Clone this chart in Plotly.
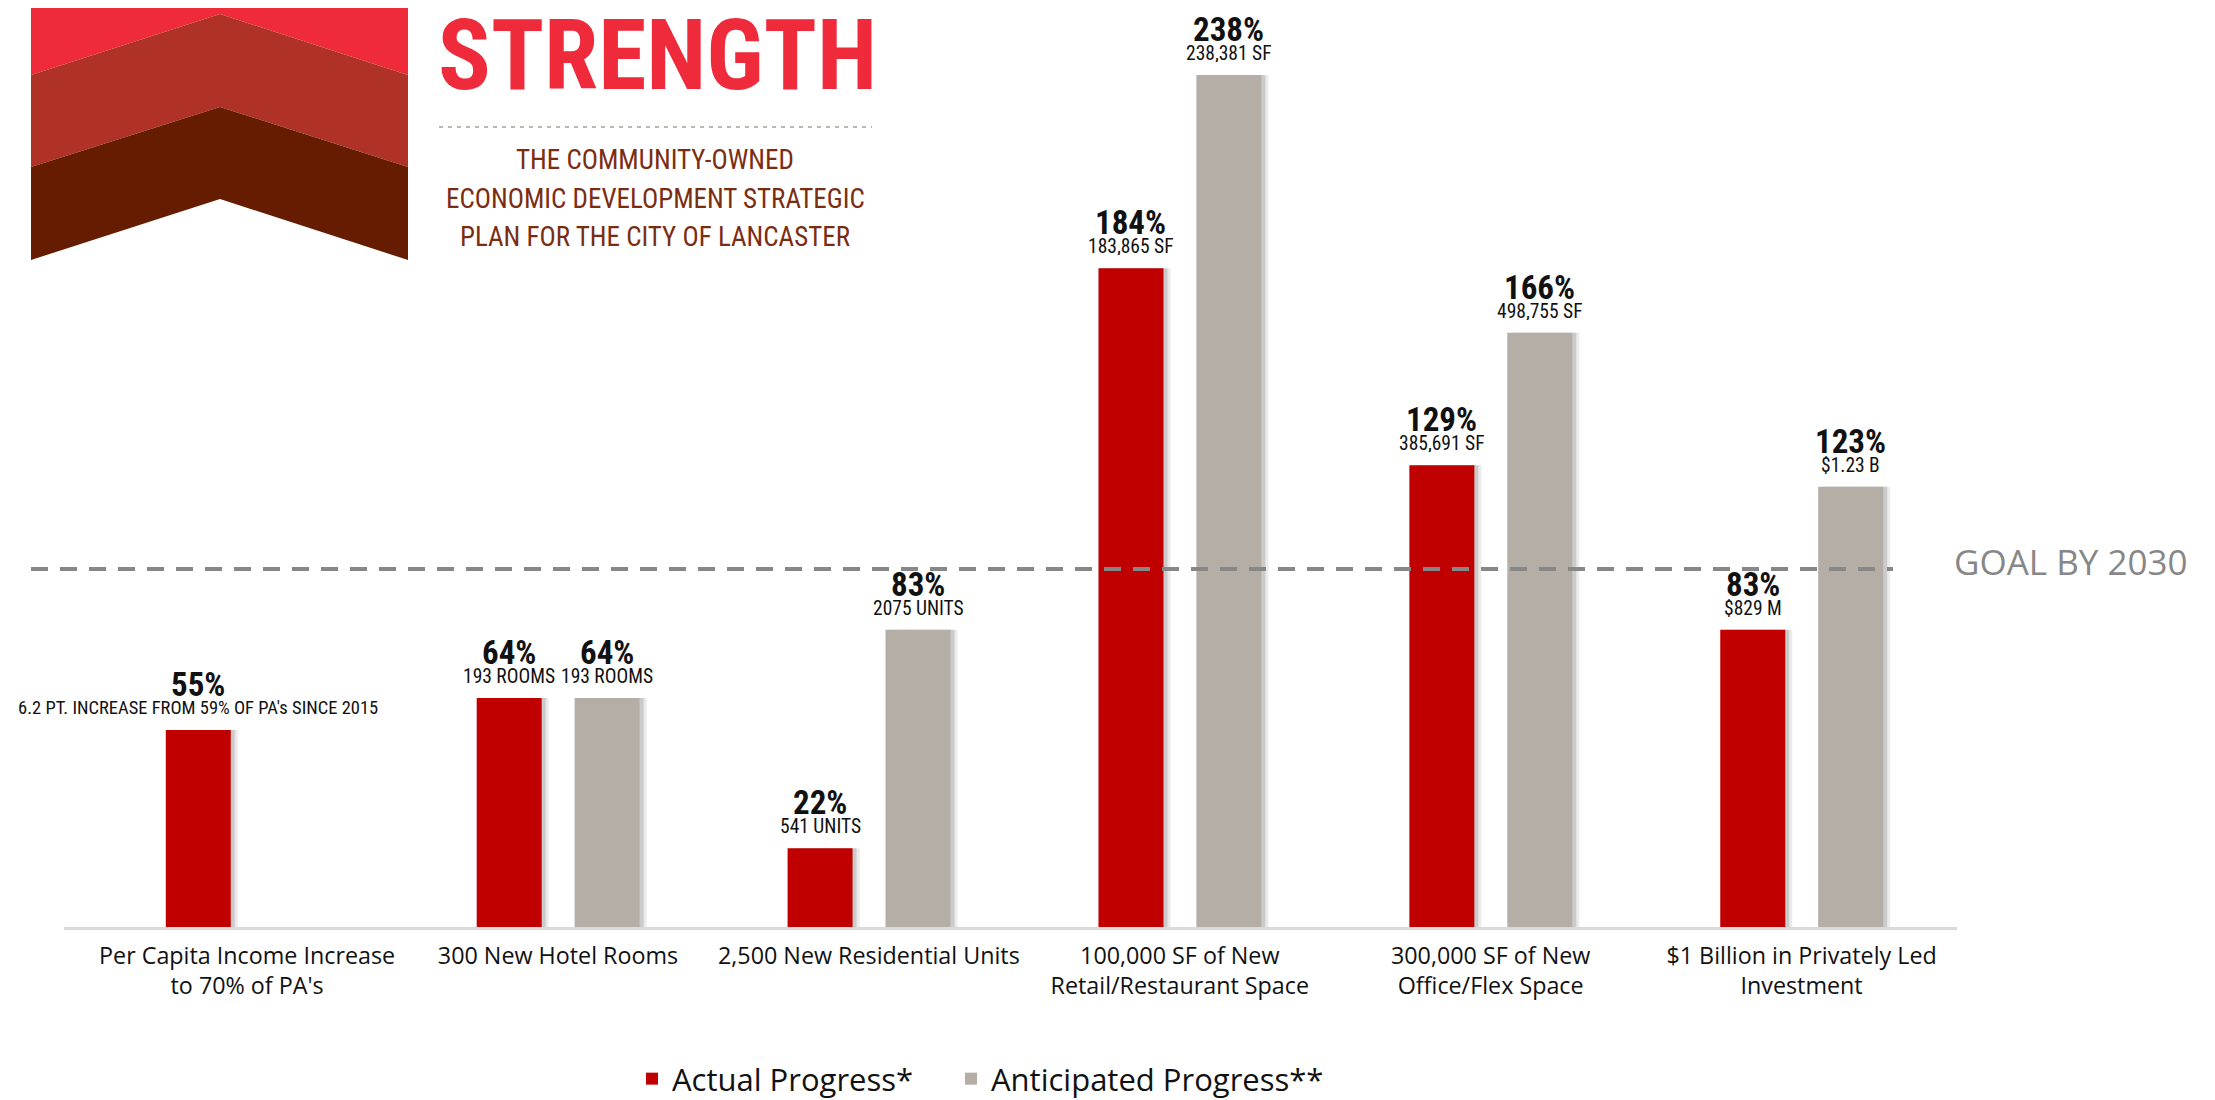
import plotly.graph_objects as go

# ---------------- data ----------------
categories = [
    "Per Capita Income Increase<br>to 70% of PA's",
    "300 New Hotel Rooms",
    "2,500 New Residential Units",
    "100,000 SF of New<br>Retail/Restaurant Space",
    "300,000 SF of New<br>Office/Flex Space",
    "$1 Billion in Privately Led<br>Investment",
]
actual_pct = [55, 64, 22, 184, 129, 83]
anticipated_pct = [None, 64, 83, 238, 166, 123]
actual_detail = ["6.2 PT. INCREASE FROM 59% OF PA's SINCE 2015", "193 ROOMS", "541 UNITS",
                 "183,865 SF", "385,691 SF", "$829 M"]
anticipated_detail = [None, "193 ROOMS", "2075 UNITS", "238,381 SF", "498,755 SF", "$1.23 B"]
goal_value = 100
series_names = ["Actual Progress*", "Anticipated Progress**"]
subtitle_lines = ["THE COMMUNITY-OWNED", "ECONOMIC DEVELOPMENT STRATEGIC", "PLAN FOR THE CITY OF LANCASTER"]

# ---------------- layout constants (page pixels) ----------------
O = 8                      # default body margin of the html page
W, H = 2215 - O, 1100 - O
PL, PR, PT, PB = 64, 1957, 32, 927   # plot area on the page
X_RANGE = [-0.589, 5.5]
PX = (X_RANGE[1] - X_RANGE[0]) / (PR - PL)  # category units per pixel

RED = "#C00000"
GREY = "#B5AEA6"
BAR_W = 65 * PX
OFF_A = -0.157
OFF_B = 0.158

COND = "Liberation Sans Narrow, Arial Narrow, Roboto Condensed, sans-serif"
SANS = "Open Sans, Lato, sans-serif"


def px_x(p):
    return (p - PL) / (PR - PL)


def px_y(p):
    return (PB - p) / (PB - PT)


def path(points):
    return "M " + " L ".join(f"{px_x(x):.5f},{px_y(y):.5f}" for x, y in points) + " Z"


fig = go.Figure()

# soft drop shadows
for vals, off in [(actual_pct, OFF_A), (anticipated_pct, OFF_B)]:
    for shift, alpha in [(7, 0.10), (4, 0.18)]:
        fig.add_trace(go.Bar(
            x=categories, y=vals, offset=off - BAR_W / 2 + shift * PX, width=BAR_W,
            marker=dict(color=f"rgba(60,60,60,{alpha})", line=dict(width=0)),
            showlegend=False, hoverinfo="skip"))

fig.add_trace(go.Bar(x=categories, y=actual_pct, name=series_names[0],
                     offset=OFF_A - BAR_W / 2, width=BAR_W, legend="legend",
                     marker=dict(color=RED, line=dict(width=0))))
fig.add_trace(go.Bar(x=categories, y=anticipated_pct, name=series_names[1],
                     offset=OFF_B - BAR_W / 2, width=BAR_W, legend="legend2",
                     marker=dict(color=GREY, line=dict(width=0))))

annotations = []
for i in range(len(categories)):
    for vals, det, off in [(actual_pct, actual_detail, OFF_A), (anticipated_pct, anticipated_detail, OFF_B)]:
        v = vals[i]
        if v is None:
            continue
        annotations.append(dict(x=i + off, y=v, xref="x", yref="y", text=f"<b>{v}%</b>",
                                showarrow=False, yanchor="middle", yshift=46, height=26,
                                font=dict(family=COND, size=33, color="#111111")))
        annotations.append(dict(x=i + off, y=v, xref="x", yref="y", text=det[i],
                                showarrow=False, yanchor="middle", yshift=22, height=18,
                                font=dict(family=COND, size=18.5 if len(det[i]) > 20 else 19.5,
                                          color="#111111")))

# goal label
annotations.append(dict(x=px_x(1952), y=goal_value, xref="paper", yref="y", text="GOAL BY 2030",
                        showarrow=False, xanchor="left", yanchor="middle", yshift=8,
                        font=dict(family=SANS, size=35, color="#878787")))

# header
annotations.append(dict(x=px_x(436), y=px_y(8), xref="paper", yref="paper", text="<b>STRENGTH</b>",
                        showarrow=False, xanchor="left", yanchor="top", height=90,
                        font=dict(family=COND, size=98, color="#EE2A3B")))
for line, yc in zip(subtitle_lines, [160, 199, 237]):
    annotations.append(dict(x=px_x(655), y=px_y(yc), xref="paper", yref="paper", text=line,
                            showarrow=False, xanchor="center", yanchor="middle",
                            font=dict(family=COND, size=27, color="#7B2D12")))

shapes = [
    dict(type="line", xref="paper", yref="y", x0=px_x(31), x1=px_x(1893), y0=goal_value, y1=goal_value,
         line=dict(color="#878787", width=4, dash="17px,12px"), layer="above"),
    # logo chevrons
    dict(type="path", xref="paper", yref="paper",
         path=path([(31, 0), (408, 0), (408, 75), (220, 14), (31, 75)]),
         fillcolor="#EE2A3B", line=dict(width=0)),
    dict(type="path", xref="paper", yref="paper",
         path=path([(31, 75), (220, 14), (408, 75), (408, 167), (220, 107), (31, 167)]),
         fillcolor="#B03226", line=dict(width=0)),
    dict(type="path", xref="paper", yref="paper",
         path=path([(31, 167), (220, 107), (408, 167), (408, 260), (220, 199), (31, 260)]),
         fillcolor="#651C00", line=dict(width=0)),
    dict(type="line", xref="paper", yref="paper", x0=px_x(439), x1=px_x(872), y0=px_y(127), y1=px_y(127),
         line=dict(color="#BDB7B0", width=2, dash="4px,5px")),
]

legend_style = dict(orientation="h", xanchor="left", y=px_y(1079), yanchor="middle",
                    font=dict(family=SANS, size=31, color="#111111"), bgcolor="rgba(0,0,0,0)")

fig.update_layout(
    width=W, height=H,
    margin=dict(l=PL - O, r=(O + W) - PR, t=PT - O, b=(O + H) - PB, pad=0, autoexpand=False),
    plot_bgcolor="white", paper_bgcolor="white",
    barmode="overlay",
    showlegend=True,
    legend=dict(x=px_x(632), **legend_style),
    legend2=dict(x=px_x(951), **legend_style),
    xaxis=dict(range=X_RANGE, showline=True, linecolor="#D9D9D9", linewidth=3, showgrid=False,
               zeroline=False, ticks="", tickangle=0,
               tickfont=dict(family=SANS, size=23.3, color="#111111"),
               ticklabelstandoff=6, fixedrange=True, automargin=False),
    yaxis=dict(range=[0, 250], visible=False, showgrid=False, zeroline=False, fixedrange=True),
    annotations=annotations,
    shapes=shapes,
)

fig.write_html("out.html")
